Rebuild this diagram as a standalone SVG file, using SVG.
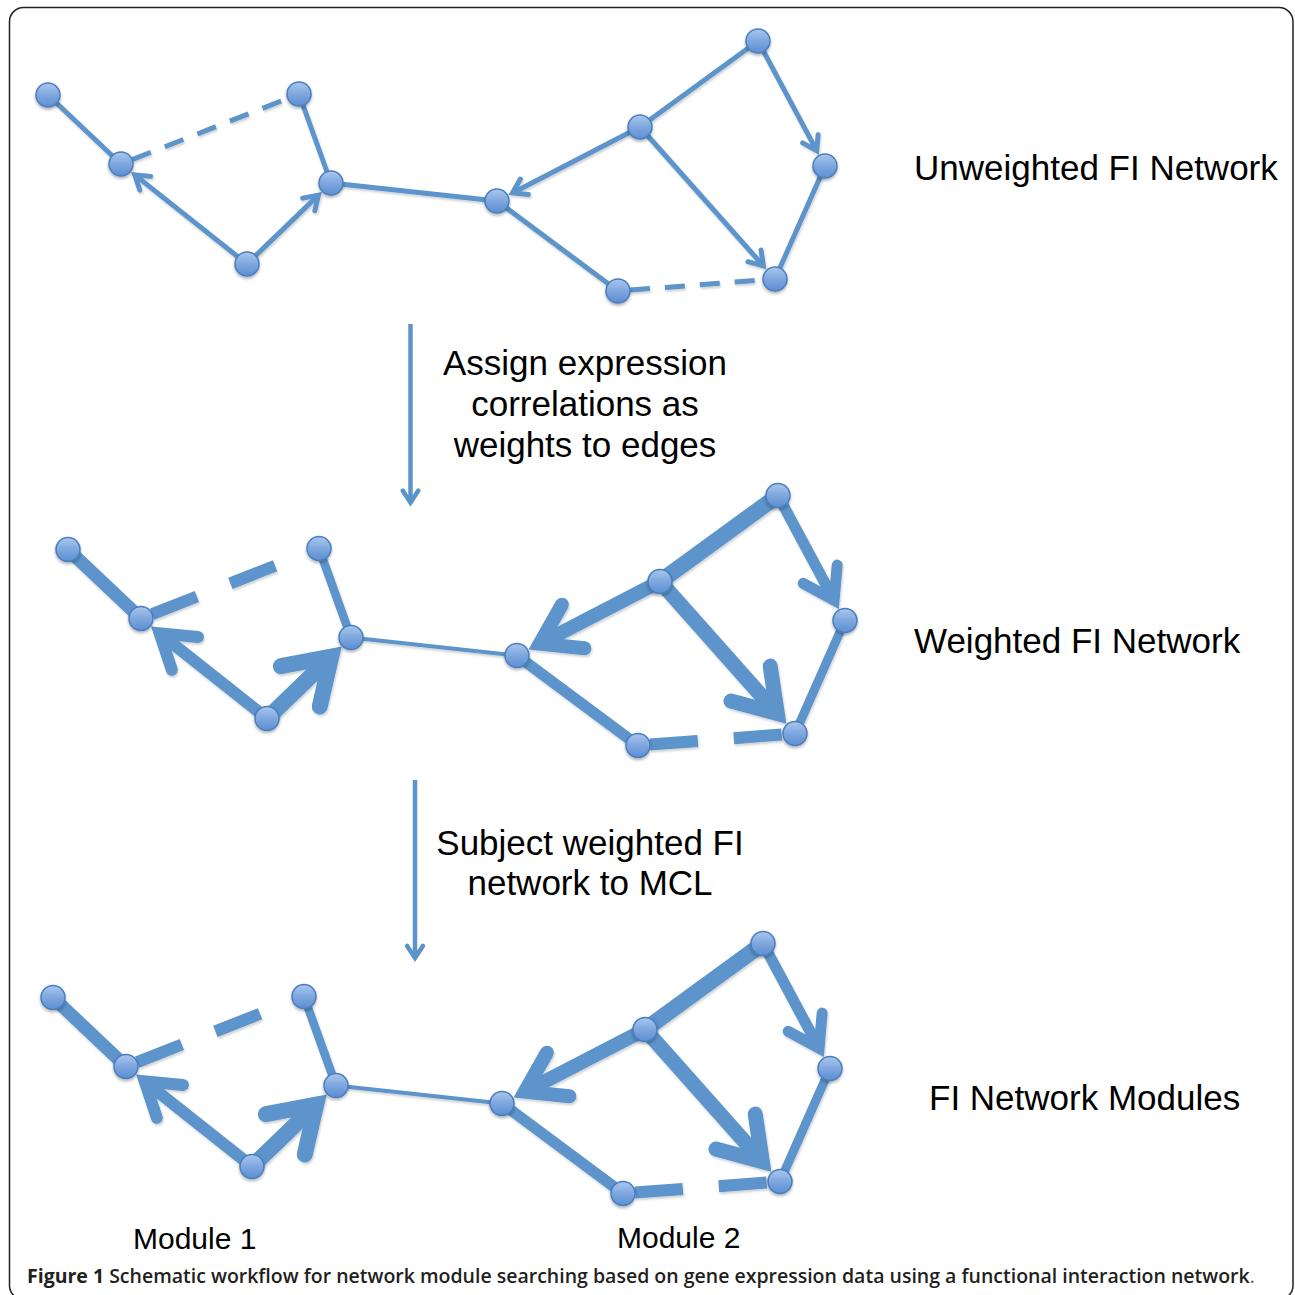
<svg xmlns="http://www.w3.org/2000/svg" width="1295" height="1295" viewBox="0 0 1295 1295">
  <style>
    .edge{fill:none;stroke:#5b94cb;stroke-linecap:butt}
    .arrow{marker-end:url(#chevron)}
    .node circle{fill:url(#nodeFill);stroke:#4a7ebd;stroke-width:1.5;filter:url(#nodeShadow)}
    .label{font-family:"Liberation Sans",Arial,sans-serif;font-size:35px;fill:#000}
    .module{font-family:"Liberation Sans",Arial,sans-serif;font-size:30px;fill:#000}
    .caption{font-family:"Open Sans","Noto Sans",sans-serif;font-size:19.5px;fill:#231f20}
  </style>
  <defs>
    <linearGradient id="nodeFill" x1="0" y1="0" x2="0" y2="1">
      <stop offset="0" stop-color="#aac7ee"/>
      <stop offset="0.5" stop-color="#7ea7de"/>
      <stop offset="1" stop-color="#5b8ed2"/>
    </linearGradient>
    <filter id="nodeShadow" x="-50%" y="-50%" width="200%" height="200%">
      <feDropShadow dx="0" dy="2" stdDeviation="1.5" flood-color="#000" flood-opacity="0.3"/>
    </filter>
    <filter id="lineShadow" x="-5%" y="-5%" width="110%" height="110%">
      <feDropShadow dx="1" dy="2" stdDeviation="1.2" flood-color="#000" flood-opacity="0.18"/>
    </filter>
    <!-- open arrowhead, sized in stroke-width units; vertex sits at the path end -->
    <marker id="chevron" markerUnits="strokeWidth" orient="auto" refX="0" refY="0" markerWidth="6" markerHeight="6" overflow="visible">
      <path d="M-2.68,-1.75 L0,0 L-2.68,1.75" fill="none" stroke="#5b94cb" stroke-width="1" stroke-linecap="round" stroke-linejoin="miter"/>
    </marker>
  </defs>

  <!-- outer frame -->
  <rect x="9.5" y="7.5" width="1283.5" height="1292" rx="14" fill="none" stroke="#222" stroke-width="1.5"/>

  <!-- ===== Unweighted FI network ===== -->
  <g id="panel-unweighted">
    <g id="connectors-unweighted" class="connectors" filter="url(#lineShadow)" stroke-width="5">
      <path class="edge" d="M48,95 L121,164"/>
      <path class="edge" stroke-dasharray="20 15" d="M132.2,159.6 L287.8,98.4"/>
      <path class="edge" d="M299,94 L331,183"/>
      <path class="edge" d="M331,183 L497,201"/>
      <path class="edge arrow" d="M247,264 L134.7,174.9"/>
      <path class="edge arrow" d="M247,264 L318.4,195.1"/>
      <path class="edge arrow" d="M640,127 L512.5,193"/>
      <path class="edge" d="M758,41 L640,127"/>
      <path class="edge arrow" d="M758,41 L816.7,150.6"/>
      <path class="edge arrow" d="M640,127 L763.4,265.9"/>
      <path class="edge" d="M825,166 L775,279"/>
      <path class="edge" d="M497,201 L618,291"/>
      <path class="edge" stroke-dasharray="20 15" d="M630,290.1 L763,279.9"/>
    </g>
    <g id="u-A" class="node"><circle cx="48" cy="95" r="12"/></g>
    <g id="u-B" class="node"><circle cx="121" cy="164" r="12"/></g>
    <g id="u-C" class="node"><circle cx="299" cy="94" r="12"/></g>
    <g id="u-D" class="node"><circle cx="331" cy="183" r="12"/></g>
    <g id="u-E" class="node"><circle cx="247" cy="264" r="12"/></g>
    <g id="u-F" class="node"><circle cx="497" cy="201" r="12"/></g>
    <g id="u-G" class="node"><circle cx="640" cy="127" r="12"/></g>
    <g id="u-H" class="node"><circle cx="758" cy="41" r="12"/></g>
    <g id="u-I" class="node"><circle cx="825" cy="166" r="12"/></g>
    <g id="u-J" class="node"><circle cx="775" cy="279" r="12"/></g>
    <g id="u-K" class="node"><circle cx="618" cy="291" r="12"/></g>
  </g>
  <text class="label" x="914" y="180">Unweighted FI Network</text>

  <!-- step arrow 1 -->
  <g id="step-1">
    <path class="edge arrow" stroke-width="4.5" d="M410.5,324 L410.5,502.6"/>
    <text class="label" text-anchor="middle" x="585" y="375">Assign expression</text>
    <text class="label" text-anchor="middle" x="585" y="416">correlations as</text>
    <text class="label" text-anchor="middle" x="585" y="457">weights to edges</text>
  </g>

  <!-- ===== Weighted FI network ===== -->
  <g id="panel-weighted" transform="translate(20,454.5)">
    <g id="connectors-weighted" class="connectors" filter="url(#lineShadow)">
      <path class="edge" stroke-width="13" d="M48,95 L121,164"/>
      <path class="edge" stroke-width="12" stroke-dasharray="48 36" d="M132.2,159.6 L287.8,98.4"/>
      <path class="edge" stroke-width="8.5" d="M299,94 L331,183"/>
      <path class="edge" stroke-width="4" d="M331,183 L497,201"/>
      <path class="edge arrow" stroke-width="12" d="M247,264 L139.7,178.9"/>
      <path class="edge arrow" stroke-width="16" d="M247,264 L311.2,202.1"/>
      <path class="edge arrow" stroke-width="14" d="M640,127 L519.8,189.2"/>
      <path class="edge" stroke-width="16" d="M758,41 L640,127"/>
      <path class="edge arrow" stroke-width="11" d="M758,41 L814.1,145.7"/>
      <path class="edge arrow" stroke-width="15" d="M640,127 L757.3,259.1"/>
      <path class="edge" stroke-width="9" d="M825,166 L775,279"/>
      <path class="edge" stroke-width="11" d="M497,201 L618,291"/>
      <path class="edge" stroke-width="12" stroke-dasharray="48 36" d="M630,290.1 L763,279.9"/>
    </g>
    <g id="w-A" class="node"><circle cx="48" cy="95" r="12"/></g>
    <g id="w-B" class="node"><circle cx="121" cy="164" r="12"/></g>
    <g id="w-C" class="node"><circle cx="299" cy="94" r="12"/></g>
    <g id="w-D" class="node"><circle cx="331" cy="183" r="12"/></g>
    <g id="w-E" class="node"><circle cx="247" cy="264" r="12"/></g>
    <g id="w-F" class="node"><circle cx="497" cy="201" r="12"/></g>
    <g id="w-G" class="node"><circle cx="640" cy="127" r="12"/></g>
    <g id="w-H" class="node"><circle cx="758" cy="41" r="12"/></g>
    <g id="w-I" class="node"><circle cx="825" cy="166" r="12"/></g>
    <g id="w-J" class="node"><circle cx="775" cy="279" r="12"/></g>
    <g id="w-K" class="node"><circle cx="618" cy="291" r="12"/></g>
  </g>
  <text class="label" x="914" y="653">Weighted FI Network</text>

  <!-- step arrow 2 -->
  <g id="step-2">
    <path class="edge arrow" stroke-width="4.5" d="M415,780 L415,958"/>
    <text class="label" text-anchor="middle" x="590" y="855">Subject weighted FI</text>
    <text class="label" text-anchor="middle" x="590" y="895">network to MCL</text>
  </g>

  <!-- ===== FI network modules ===== -->
  <g id="panel-modules" transform="translate(5,902.5)">
    <g id="connectors-modules" class="connectors" filter="url(#lineShadow)">
      <path class="edge" stroke-width="13" d="M48,95 L121,164"/>
      <path class="edge" stroke-width="12" stroke-dasharray="48 36" d="M132.2,159.6 L287.8,98.4"/>
      <path class="edge" stroke-width="8.5" d="M299,94 L331,183"/>
      <path class="edge" stroke-width="4" d="M331,183 L497,201"/>
      <path class="edge arrow" stroke-width="12" d="M247,264 L139.7,178.9"/>
      <path class="edge arrow" stroke-width="16" d="M247,264 L311.2,202.1"/>
      <path class="edge arrow" stroke-width="14" d="M640,127 L519.8,189.2"/>
      <path class="edge" stroke-width="16" d="M758,41 L640,127"/>
      <path class="edge arrow" stroke-width="11" d="M758,41 L814.1,145.7"/>
      <path class="edge arrow" stroke-width="15" d="M640,127 L757.3,259.1"/>
      <path class="edge" stroke-width="9" d="M825,166 L775,279"/>
      <path class="edge" stroke-width="11" d="M497,201 L618,291"/>
      <path class="edge" stroke-width="12" stroke-dasharray="48 36" d="M630,290.1 L763,279.9"/>
    </g>
    <g id="m-A" class="node"><circle cx="48" cy="95" r="12"/></g>
    <g id="m-B" class="node"><circle cx="121" cy="164" r="12"/></g>
    <g id="m-C" class="node"><circle cx="299" cy="94" r="12"/></g>
    <g id="m-D" class="node"><circle cx="331" cy="183" r="12"/></g>
    <g id="m-E" class="node"><circle cx="247" cy="264" r="12"/></g>
    <g id="m-F" class="node"><circle cx="497" cy="201" r="12"/></g>
    <g id="m-G" class="node"><circle cx="640" cy="127" r="12"/></g>
    <g id="m-H" class="node"><circle cx="758" cy="41" r="12"/></g>
    <g id="m-I" class="node"><circle cx="825" cy="166" r="12"/></g>
    <g id="m-J" class="node"><circle cx="775" cy="279" r="12"/></g>
    <g id="m-K" class="node"><circle cx="618" cy="291" r="12"/></g>
  </g>
  <text class="label" x="929" y="1110">FI Network Modules</text>
  <text class="module" x="133" y="1249">Module 1</text>
  <text class="module" x="617" y="1248">Module 2</text>

  <!-- caption -->
  <text class="caption" x="27" y="1283"><tspan font-weight="700">Figure 1</tspan><tspan font-weight="600"> Schematic workflow for network module searching based on gene expression data using a functional interaction network</tspan><tspan font-weight="400" fill="#666">.</tspan></text>
</svg>
